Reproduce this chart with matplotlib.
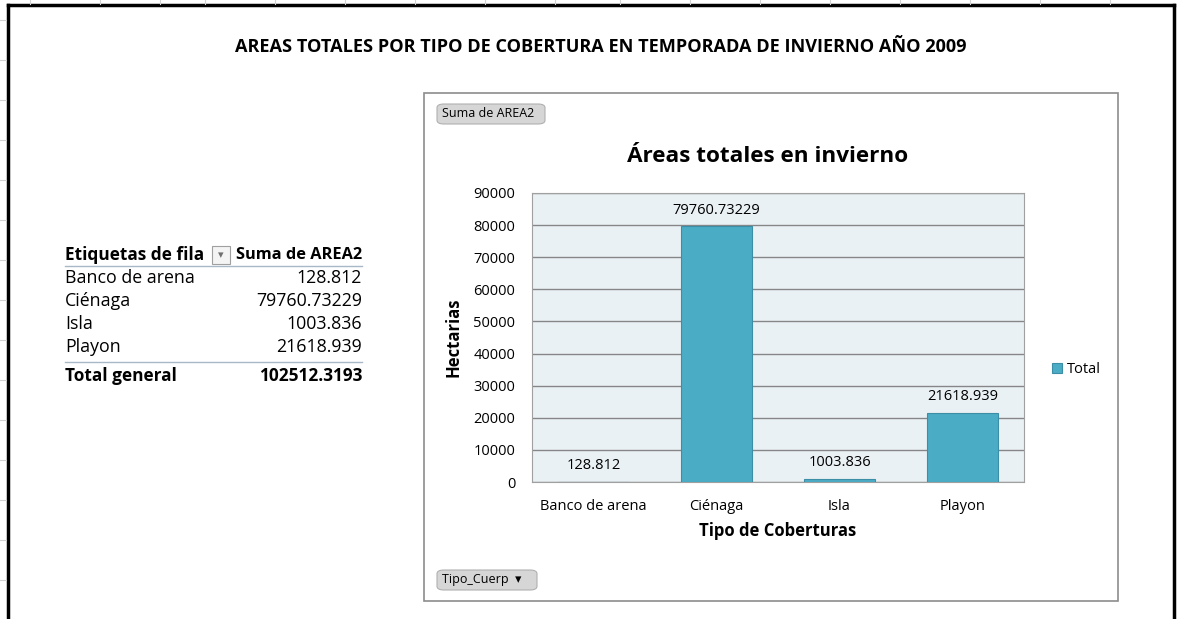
import numpy as np
import matplotlib.pyplot as plt
from matplotlib.patches import Rectangle, FancyBboxPatch
from matplotlib.lines import Line2D

plt.rcParams['font.family'] = ['Open Sans', 'DejaVu Sans']

# data
categories = ['Banco de arena', 'Ciénaga', 'Isla', 'Playon']
areas = [128.812, 79760.73229, 1003.836, 21618.939]
area_labels = ['128.812', '79760.73229', '1003.836', '21618.939']
total_label = '102512.3193'
yticks = [0, 10000, 20000, 30000, 40000, 50000, 60000, 70000, 80000, 90000]

W, H = 1178, 619
fig = plt.figure(figsize=(W / 100, H / 100), dpi=100)


def fx(px):
    return px / W


def fy(py):
    return 1 - py / H


# spreadsheet border
fig.add_artist(Line2D([fx(8), fx(1174)], [fy(5), fy(5)], color='black', lw=2.5))
fig.add_artist(Line2D([fx(8), fx(8)], [fy(5), 0], color='black', lw=2.5))
fig.add_artist(Line2D([fx(1174), fx(1174)], [fy(5), 0], color='black', lw=2.5))
for px in [30, 100, 160, 205, 275, 345, 415, 485, 555, 620, 690, 760, 830, 900, 970, 1040, 1110]:
    fig.add_artist(Line2D([fx(px), fx(px)], [fy(0), fy(4)], color='#d0d0d0', lw=0.8))
for py in [20, 60, 100, 140, 180, 220, 260, 300, 340, 380, 420, 460, 500, 540, 580]:
    fig.add_artist(Line2D([0, fx(6)], [fy(py), fy(py)], color='#d0d0d0', lw=0.8))

fig.text(fx(601), fy(47), 'AREAS TOTALES POR TIPO DE COBERTURA EN TEMPORADA DE INVIERNO AÑO 2009',
         ha='center', va='center', fontsize=13.1, fontweight='bold')

# pivot table
tx_l, tx_r = 65, 362
fig.text(fx(tx_l), fy(255), 'Etiquetas de fila', ha='left', va='center', fontsize=12.4, fontweight='bold')
fig.text(fx(tx_r), fy(255), 'Suma de AREA2', ha='right', va='center', fontsize=11.8, fontweight='bold')
fig.add_artist(Rectangle((fx(212), fy(264)), fx(18), 18 / H, facecolor='#f4f4f4', edgecolor='#a0a0a0', lw=0.8))
fig.text(fx(221), fy(255), '▾', ha='center', va='center', fontsize=8, color='#707070', family='DejaVu Sans')
fig.add_artist(Line2D([fx(65), fx(tx_r)], [fy(266), fy(266)], color='#a8b8c8', lw=1))
row_y = [278, 301, 324, 347]
for cat, lab, ry in zip(categories, area_labels, row_y):
    fig.text(fx(tx_l), fy(ry), cat, ha='left', va='center', fontsize=12.8)
    fig.text(fx(tx_r), fy(ry), lab, ha='right', va='center', fontsize=12.8)
fig.add_artist(Line2D([fx(65), fx(tx_r)], [fy(362), fy(362)], color='#a8b8c8', lw=1))
fig.text(fx(tx_l), fy(376), 'Total general', ha='left', va='center', fontsize=12.4, fontweight='bold')
fig.text(fx(tx_r), fy(376), total_label, ha='right', va='center', fontsize=12.4, fontweight='bold')

# chart box
fig.add_artist(Rectangle((fx(424), fy(601)), fx(1118 - 424), 508 / H, facecolor='white',
                         edgecolor='#8c8c8c', lw=1.2, zorder=0))
for txt, x0, y0, w in [('Suma de AREA2', 437, 124, 108), ('Tipo_Cuerp  ▾', 437, 590, 100)]:
    fig.add_artist(FancyBboxPatch((fx(x0), fy(y0)), fx(w), 20 / H,
                                  boxstyle='round,pad=0,rounding_size=0.006',
                                  facecolor='#d6d6d6', edgecolor='#b0b0b0', lw=0.8))
    fig.text(fx(x0 + 5), fy(y0 - 10), txt, ha='left', va='center', fontsize=9,
             family=['Open Sans', 'DejaVu Sans'])

fig.text(fx(768), fy(157), 'Áreas totales en invierno', ha='center', va='center',
         fontsize=16.2, fontweight='bold')

ax = fig.add_axes([fx(532), fy(482), fx(1024 - 532), (482 - 193) / H])
ax.set_facecolor('#eaf1f5')
x = np.arange(len(categories))
bars = ax.bar(x, areas, width=0.58, color='#4bacc6', edgecolor='#3b8ea6', lw=0.8,
              label='Total', zorder=3)
for b, lab in zip(bars, area_labels):
    ax.annotate(lab, (b.get_x() + b.get_width() / 2, b.get_height()), xytext=(0, 6),
                textcoords='offset points', ha='center', va='bottom', fontsize=10.5)
ax.set_xlim(-0.5, len(categories) - 0.5)
ax.set_ylim(0, 90000)
ax.set_yticks(yticks)
ax.set_yticklabels([str(v) for v in yticks], fontsize=10.5)
ax.set_xticks(x)
ax.set_xticklabels(categories, fontsize=10.5)
ax.yaxis.grid(True, color='#868686', lw=1, zorder=0)
ax.tick_params(length=0, pad=12)
ax.tick_params(axis='x', pad=12)
for s in ax.spines.values():
    s.set_color('#a0a0a0')
ax.set_ylabel('Hectarias', fontsize=12, fontweight='bold', labelpad=8)
ax.set_xlabel('Tipo de Coberturas', fontsize=12, fontweight='bold', labelpad=6)
ax.legend(loc='center left', bbox_to_anchor=(1.03, 0.39), frameon=False, fontsize=10.5,
          handlelength=0.7, handleheight=0.7, handletextpad=0.3)

fig.savefig('out.png', dpi=100)
